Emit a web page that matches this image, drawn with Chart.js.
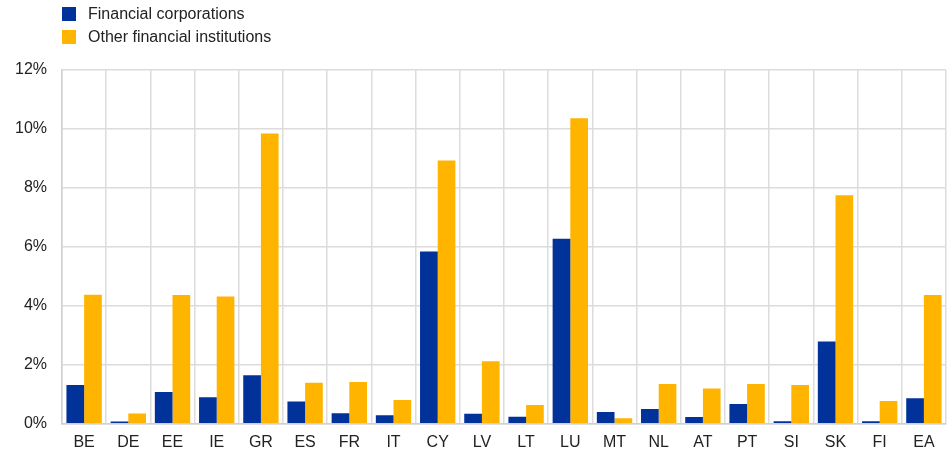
<!DOCTYPE html>
<html>
<head>
<meta charset="utf-8">
<script src="https://cdn.jsdelivr.net/npm/chart.js@4"></script>
<style>
  body { margin: 0; background: #fff; }
  #wrap { position: relative; width: 949px; height: 468px; }
  #legend { position: absolute; left: 62px; top: 2px; font: 16px "Liberation Sans", Arial, sans-serif; color: #222; }
  #legend div { display: flex; align-items: center; height: 23px; }
  #legend span { display: inline-block; width: 14px; height: 14px; margin-right: 12px; }
</style>
</head>
<body>
<div id="wrap">
  <canvas id="myBarChart" width="949" height="468"></canvas>
  <div id="legend"></div>
</div>
<script>
const paises = ['BE', 'DE', 'EE', 'IE', 'GR', 'ES', 'FR', 'IT', 'CY', 'LV', 'LT', 'LU', 'MT', 'NL', 'AT', 'PT', 'SI', 'SK', 'FI', 'EA'];
const corporacoes = [1.32, 0.08, 1.08, 0.90, 1.65, 0.76, 0.36, 0.29, 5.84, 0.34, 0.24, 6.28, 0.40, 0.50, 0.23, 0.67, 0.09, 2.79, 0.09, 0.87];
const outrasInst = [4.38, 0.35, 4.37, 4.32, 9.85, 1.39, 1.42, 0.81, 8.93, 2.12, 0.64, 10.36, 0.19, 1.35, 1.20, 1.35, 1.32, 7.75, 0.77, 4.37];
const yTicks = [0, 2, 4, 6, 8, 10, 12];

const datasets = [
    { label: 'Financial corporations', data: corporacoes, backgroundColor: '#003299' },
    { label: 'Other financial institutions', data: outrasInst, backgroundColor: '#ffb400' }
];

// legenda em html, um item por linha
document.getElementById('legend').innerHTML = datasets.map(d =>
    `<div><span style="background:${d.backgroundColor}"></span>${d.label}</div>`).join('');

const fonte = { family: '"Liberation Sans", Arial, sans-serif', size: 16 };

const ctx = document.getElementById('myBarChart').getContext('2d');
const myChart = new Chart(ctx, {
    type: 'bar',
    data: {
        labels: paises,
        datasets: datasets.map(d => ({
            ...d,
            borderWidth: 0,
            categoryPercentage: 0.8,
            barPercentage: 1
        }))
    },
    options: {
        responsive: false,
        animation: false,
        layout: { padding: { left: 0, right: 3, top: 70, bottom: 7 } },
        scales: {
            x: {
                grid: { color: '#dcdcdc', lineWidth: 1.5, drawTicks: false, offset: true },
                border: { color: '#d0d0d0', width: 1.5 },
                ticks: { font: fonte, color: '#222', padding: 9 }
            },
            y: {
                min: 0,
                max: 12,
                afterBuildTicks: axis => { axis.ticks = yTicks.map(v => ({ value: v })); },
                grid: { color: '#dcdcdc', lineWidth: 1.5, drawTicks: false },
                border: { color: '#d0d0d0', width: 1.5 },
                ticks: { font: fonte, color: '#222', padding: 15, callback: v => v + '%' }
            }
        },
        plugins: {
            legend: { display: false },
            tooltip: { enabled: false }
        }
    }
});
</script>
</body>
</html>
